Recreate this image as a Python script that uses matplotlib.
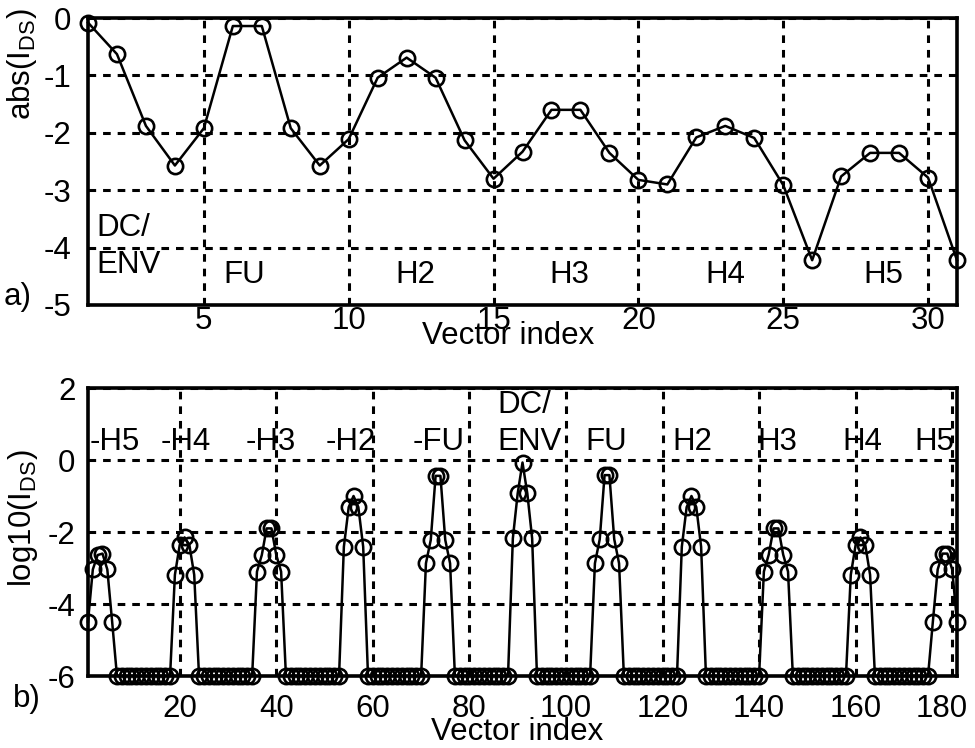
import matplotlib
matplotlib.use("Agg")
import matplotlib.pyplot as plt
import matplotlib.transforms as mtransforms
import numpy as np

plt.rcParams['font.family'] = ['Liberation Sans', 'DejaVu Sans']
plt.rcParams['mathtext.default'] = 'regular'
plt.rcParams['lines.scale_dashes'] = False
plt.rcParams['axes.unicode_minus'] = False

# ---- a) magnitude of the 31 vector entries ----
vec_idx_a = list(range(1, 32))
abs_ids = [-0.08, -0.63, -1.88, -2.57, -1.92, -0.14, -0.14, -1.92, -2.57, -2.11,
           -1.04, -0.69, -1.04, -2.13, -2.80, -2.33, -1.60, -1.60, -2.35, -2.82,
           -2.90, -2.08, -1.88, -2.09, -2.91, -4.22, -2.76, -2.35, -2.35, -2.78,
           -4.22]
labels_a = ["FU", "H2", "H3", "H4", "H5"]
labels_a_x = [6.4, 12.3, 17.6, 23.0, 28.45]

# ---- b) full spectrum, 181 bins; bins outside the bands sit at the floor ----
n_bins = 181
floor_level = -6.0
band_start = [1, 19, 36, 54, 71, 89, 106, 124, 141, 159, 176]
band_values = [
    [-4.49, -3.04, -2.64, -2.60, -3.04, -4.49],   # -H5
    [-3.19, -2.36, -2.15, -2.36, -3.19],          # -H4
    [-3.10, -2.64, -1.90, -1.90, -2.64, -3.10],   # -H3
    [-2.41, -1.31, -1.00, -1.31, -2.41],          # -H2
    [-2.87, -2.22, -0.44, -0.44, -2.22, -2.87],   # -FU
    [-2.18, -0.93, -0.07, -0.93, -2.18],          # DC/ENV
    [-2.87, -2.20, -0.42, -0.42, -2.20, -2.87],   # FU
    [-2.41, -1.31, -1.00, -1.31, -2.41],          # H2
    [-3.10, -2.63, -1.90, -1.90, -2.63, -3.10],   # H3
    [-3.19, -2.36, -2.15, -2.36, -3.19],          # H4
    [-4.49, -3.04, -2.60, -2.60, -3.04, -4.49],   # H5
]
labels_b = ["-H5", "-H4", "-H3", "-H2", "-FU", "FU", "H2", "H3", "H4", "H5"]
labels_b_x = [6.5, 21.2, 38.8, 55.5, 73.7, 108.3, 126.1, 143.7, 161.3, 176.4]
xticks_b = [20, 40, 60, 80, 100, 120, 140, 160, 180]

vec_idx_b = np.arange(1, n_bins + 1)
log_ids = np.full(n_bins, floor_level)
for start, vals in zip(band_start, band_values):
    log_ids[start - 1:start - 1 + len(vals)] = vals

FS = 22.5
W, H = 975, 748
fig = plt.figure(figsize=(W / 100, H / 100), dpi=100)

def px_axes(l, t, r, b):
    return fig.add_axes([l / W, 1 - b / H, (r - l) / W, (b - t) / H])

ax1 = px_axes(88, 18, 957, 305)
ax2 = px_axes(88, 388, 957, 676)

line_kw = dict(color='black', lw=1.8, marker='o', ms=11.0, mew=1.9,
               mfc='none', mec='black', clip_on=False, zorder=5)
grid_kw = dict(color='black', lw=2.2, linestyle=(0, (5.5, 5.0)))

for ax in (ax1, ax2):
    for s in ax.spines.values():
        s.set_linewidth(2.6)
    ax.tick_params(direction='in', length=0, labelsize=FS, width=1.5)
    ax.grid(True, **grid_kw)
    ax.set_axisbelow(True)

# top panel
ax1.plot(vec_idx_a, abs_ids, **line_kw)
ax1.set_xlim(1, 31)
ax1.set_ylim(-5, 0)
ax1.set_xticks([5, 10, 15, 20, 25, 30])
ax1.set_yticks([0, -1, -2, -3, -4, -5])
ax1.tick_params(axis='y', pad=12)
ax1.tick_params(axis='x', pad=1)
ax1.text(1.3, -3.66, "DC/", fontsize=FS, ha='left', va='center')
ax1.text(1.3, -4.30, "ENV", fontsize=FS, ha='left', va='center')
for lab, x in zip(labels_a, labels_a_x):
    ax1.text(x, -4.48, lab, fontsize=FS, ha='center', va='center')

# bottom panel
ax2.plot(vec_idx_b, log_ids, **line_kw)
ax2.set_xlim(1, 181)
ax2.set_ylim(-6, 2)
ax2.set_xticks(xticks_b)
ax2.set_xticklabels([str(t) for t in xticks_b[:-1]] + [""])
ax2.set_yticks([2, 0, -2, -4, -6])
ax2.tick_params(axis='y', pad=9)
ax2.tick_params(axis='x', pad=13)
# last tick label nudged inward so it stays inside the figure
shift = mtransforms.ScaledTranslation(-10 / 100, 0, fig.dpi_scale_trans)
ax2.text(xticks_b[-1], 0, str(xticks_b[-1]), fontsize=FS, ha='center', va='top',
         transform=ax2.get_xaxis_transform() + shift
         + mtransforms.ScaledTranslation(0, -13 / 72, fig.dpi_scale_trans))
for lab, x in zip(labels_b, labels_b_x):
    ax2.text(x, 0.5, lab, fontsize=FS, ha='center', va='center')
ax2.text(85.7, 1.53, "DC/", fontsize=FS, ha='left', va='center')
ax2.text(85.7, 0.5, "ENV", fontsize=FS, ha='left', va='center')

# axis titles and panel tags
fig.text(22 / W, 1 - 64 / H, "abs(I$_{DS}$)", fontsize=FS, rotation=90,
         ha='center', va='center')
fig.text(23 / W, 1 - 518 / H, "log10(I$_{DS}$)", fontsize=FS, rotation=90,
         ha='center', va='center')
fig.text(508 / W, 1 - 336 / H, "Vector index", fontsize=FS, ha='center', va='center')
fig.text(517 / W, 1 - 732 / H, "Vector index", fontsize=FS, ha='center', va='center')
fig.text(18 / W, 1 - 297 / H, "a)", fontsize=FS, ha='center', va='center')
fig.text(27 / W, 1 - 699 / H, "b)", fontsize=FS, ha='center', va='center')

fig.savefig("out.png", dpi=100)
